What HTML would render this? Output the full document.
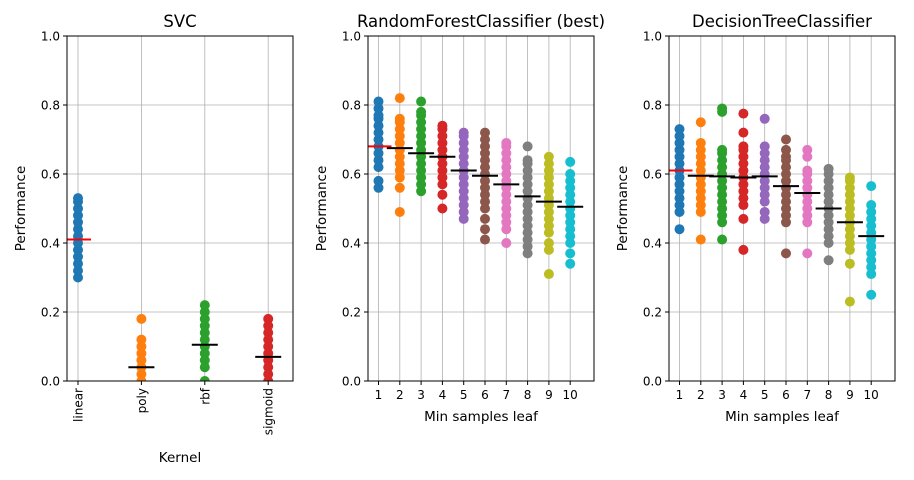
<!DOCTYPE html>
<html><head><meta charset="utf-8"><style>
body{margin:0;background:#fff;}
svg{display:block;font-family:"DejaVu Sans","Liberation Sans",sans-serif;}
</style></head><body>
<svg id="chart" width="914" height="480" viewBox="0 0 914 480"></svg>
<script>
const colors=["#1f77b4","#ff7f0e","#2ca02c","#d62728","#9467bd","#8c564b","#e377c2","#7f7f7f","#bcbd22","#17becf"];
const yTicks=[0,0.2,0.4,0.6,0.8,1.0];
const yTickLabels=["0.0","0.2","0.4","0.6","0.8","1.0"];
const svcCategories=["linear","poly","rbf","sigmoid"];
const svcValues=[
[0.30,0.32,0.34,0.36,0.38,0.40,0.42,0.44,0.46,0.48,0.50,0.52,0.53],
[0,0.02,0.04,0.06,0.08,0.10,0.12,0.18],
[0,0.04,0.06,0.08,0.10,0.12,0.14,0.16,0.18,0.20,0.22],
[0,0.02,0.04,0.06,0.08,0.10,0.12,0.14,0.16,0.18]];
const svcMedians=[0.41,0.04,0.105,0.07];
const leafCategories=["1","2","3","4","5","6","7","8","9","10"];
const rfValues=[
[0.56,0.58,0.62,0.64,0.66,0.68,0.70,0.72,0.74,0.76,0.77,0.79,0.81],
[0.49,0.56,0.59,0.61,0.63,0.65,0.67,0.69,0.71,0.73,0.75,0.76,0.82],
[0.55,0.57,0.59,0.61,0.63,0.65,0.67,0.69,0.71,0.73,0.75,0.77,0.78,0.81],
[0.50,0.54,0.57,0.59,0.61,0.63,0.65,0.67,0.69,0.71,0.73,0.74],
[0.47,0.49,0.51,0.53,0.55,0.57,0.59,0.61,0.63,0.65,0.67,0.69,0.71,0.72],
[0.41,0.44,0.47,0.50,0.52,0.54,0.56,0.58,0.60,0.62,0.64,0.66,0.68,0.70,0.72],
[0.40,0.44,0.46,0.48,0.50,0.52,0.54,0.56,0.58,0.60,0.62,0.64,0.66,0.68,0.69],
[0.37,0.39,0.41,0.43,0.45,0.47,0.49,0.51,0.53,0.55,0.57,0.59,0.61,0.63,0.64,0.68],
[0.31,0.38,0.40,0.43,0.45,0.47,0.49,0.51,0.53,0.55,0.57,0.59,0.61,0.63,0.65],
[0.34,0.37,0.40,0.42,0.44,0.46,0.48,0.50,0.52,0.54,0.56,0.58,0.60,0.635]];
const rfMedians=[0.68,0.675,0.66,0.65,0.61,0.595,0.57,0.535,0.52,0.505];
const dtValues=[
[0.44,0.49,0.51,0.53,0.55,0.57,0.59,0.61,0.63,0.65,0.67,0.69,0.71,0.73],
[0.41,0.49,0.51,0.53,0.55,0.57,0.59,0.61,0.63,0.65,0.67,0.69,0.75],
[0.41,0.46,0.48,0.50,0.52,0.54,0.56,0.58,0.60,0.62,0.64,0.66,0.67,0.78,0.79],
[0.38,0.47,0.51,0.53,0.55,0.57,0.59,0.61,0.63,0.65,0.67,0.68,0.72,0.775],
[0.47,0.49,0.52,0.54,0.56,0.58,0.60,0.62,0.64,0.66,0.68,0.76],
[0.37,0.46,0.48,0.50,0.52,0.54,0.56,0.58,0.60,0.62,0.64,0.65,0.67,0.70],
[0.37,0.46,0.48,0.50,0.52,0.54,0.56,0.58,0.60,0.61,0.65,0.67],
[0.35,0.40,0.42,0.44,0.46,0.48,0.50,0.52,0.54,0.56,0.58,0.60,0.615],
[0.23,0.34,0.38,0.40,0.42,0.44,0.46,0.48,0.50,0.52,0.54,0.56,0.58,0.59],
[0.25,0.31,0.33,0.35,0.37,0.39,0.41,0.43,0.45,0.47,0.49,0.51,0.565]];
const dtMedians=[0.61,0.595,0.593,0.59,0.593,0.565,0.545,0.50,0.46,0.42];

const NS="http://www.w3.org/2000/svg";
const svg=document.getElementById("chart");
function mk(tag,attrs,parent){const e=document.createElementNS(NS,tag);for(const k in attrs)e.setAttribute(k,attrs[k]);(parent||svg).appendChild(e);return e;}
const TOP=36,BOT=381;
function yScale(v){return BOT-v*(BOT-TOP);}

function panel(id,left,right,title,cats,vals,meds,x0,step,rotated,xlabel,xlabelY){
  const g=mk("g",{});
  
  
  const xScale=i=>x0+i*step;
  const cp=mk("clipPath",{id:"clip-"+id},g);
  mk("rect",{x:left,y:TOP,width:right-left,height:BOT-TOP},cp);
  yTicks.forEach((t,i)=>{
    const l=mk("line",{x1:left,x2:right,y1:yScale(t),y2:yScale(t),stroke:"#b0b0b0","stroke-width":0.8},g);
    
    
  });
  cats.forEach((c,i)=>{
    const l=mk("line",{x1:xScale(i),x2:xScale(i),y1:TOP,y2:BOT,stroke:"#b0b0b0","stroke-width":0.8},g);
    
    
  });
  const pg=mk("g",{"clip-path":"url(#clip-"+id+")"},g);
  vals.forEach((arr,i)=>{
    arr.forEach(v=>{
      const c=mk("circle",{cx:xScale(i),cy:yScale(v),r:5,fill:colors[i%10]},pg);
      
      
    });
  });
  meds.forEach((m,i)=>{
    const l=mk("line",{x1:xScale(i)-13,x2:xScale(i)+13,y1:yScale(m),y2:yScale(m),stroke:i===0?"#ff0000":"#000","stroke-width":2},pg);
    
    
  });
  const fr=mk("rect",{x:left,y:TOP,width:right-left,height:BOT-TOP,fill:"none",stroke:"#000","stroke-width":1},g);
  
  
  yTicks.forEach((t,i)=>{
    mk("line",{x1:left-4,x2:left,y1:yScale(t),y2:yScale(t),stroke:"#000"},g);
    const tx=mk("text",{x:left-7,y:yScale(t)+4.5,"text-anchor":"end","font-size":12},g);
    tx.textContent=yTickLabels[i];
    
    
  });
  cats.forEach((c,i)=>{
    mk("line",{x1:xScale(i),x2:xScale(i),y1:BOT,y2:BOT+4,stroke:"#000"},g);
    let tx;
    if(rotated){
      tx=mk("text",{x:0,y:0,"text-anchor":"end","font-size":12,transform:"translate("+(xScale(i)+4.5)+","+(BOT+7)+") rotate(-90)"},g);
    }else{
      tx=mk("text",{x:xScale(i),y:BOT+18,"text-anchor":"middle","font-size":12},g);
    }
    tx.textContent=c;
    
    
  });
  const tt=mk("text",{x:(left+right)/2,y:27,"text-anchor":"middle","font-size":16.5},g);
  tt.textContent=title;
  
  
  const yl=mk("text",{x:0,y:0,"text-anchor":"middle","font-size":13.5,transform:"translate("+(left-42)+","+((TOP+BOT)/2)+") rotate(-90)"},g);
  yl.textContent="Performance";
  
  
  const xl=mk("text",{x:(left+right)/2,y:xlabelY,"text-anchor":"middle","font-size":13.5},g);
  xl.textContent=xlabel;
  
  
}
panel("svc",67,293,"SVC",svcCategories,svcValues,svcMedians,78,63.4,true,"Kernel",462);
panel("rf",368,594,"RandomForestClassifier (best)",leafCategories,rfValues,rfMedians,378.5,21.3,false,"Min samples leaf",421);
panel("dt",669,895,"DecisionTreeClassifier",leafCategories,dtValues,dtMedians,679.5,21.3,false,"Min samples leaf",421);
</script>
</body></html>
